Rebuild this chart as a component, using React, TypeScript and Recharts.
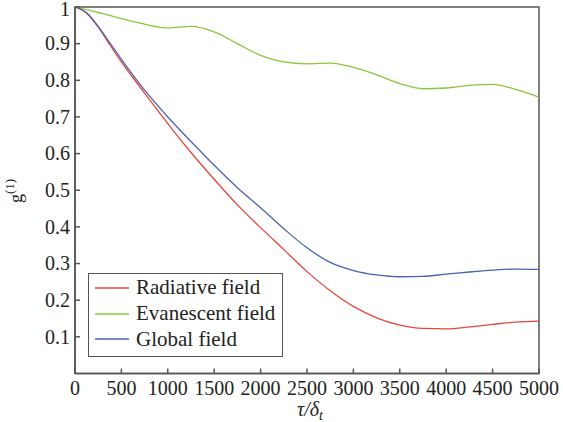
import React from 'react';
import { LineChart, Line, XAxis, YAxis, ReferenceArea, Legend } from 'recharts';

// Delay axis, tau / delta_t
const tau = [
  0, 125, 250, 375, 500, 750, 1000, 1250, 1500, 1750, 2000, 2250, 2500,
  2750, 3000, 3250, 3500, 3750, 4000, 4250, 4500, 4750, 5000,
];

// First-order coherence g(1) for each field
const radiative = [
  1.0, 0.983, 0.945, 0.897, 0.85, 0.765, 0.682, 0.603, 0.53, 0.46, 0.398, 0.338, 0.278,
  0.226, 0.183, 0.152, 0.132, 0.123, 0.122, 0.127, 0.134, 0.14, 0.143,
];
const evanescent = [
  1.0, 0.993, 0.985, 0.977, 0.968, 0.953, 0.943, 0.947, 0.932, 0.9, 0.868, 0.85, 0.845,
  0.847, 0.835, 0.815, 0.791, 0.777, 0.779, 0.786, 0.789, 0.775, 0.754,
];
const globalField = [
  1.0, 0.984, 0.947, 0.902, 0.857, 0.773, 0.7, 0.633, 0.568, 0.507, 0.452, 0.395, 0.343,
  0.303, 0.281, 0.269, 0.264, 0.265, 0.271, 0.277, 0.282, 0.285, 0.284,
];

const xTicks = [0, 500, 1000, 1500, 2000, 2500, 3000, 3500, 4000, 4500, 5000];
const yTicks = [0.1, 0.2, 0.3, 0.4, 0.5, 0.6, 0.7, 0.8, 0.9, 1];
const seriesNames = ['Radiative field', 'Evanescent field', 'Global field'];

const data = tau.map((t, i) => ({
  tau: t,
  radiative: radiative[i],
  evanescent: evanescent[i],
  global: globalField[i],
}));

const AXIS = '#555';
const SERIF = "'Liberation Serif', 'DejaVu Serif', 'Noto Serif', 'Times New Roman', Times, serif";
const COLORS = { radiative: '#e5463c', evanescent: '#8cc63a', global: '#4d63b2' };

const XTick = (props: any) => {
  const { x, y, payload } = props;
  return (
    <g>
      <line x1={x} y1={y} x2={x} y2={y - 5} stroke={AXIS} strokeWidth={1.5} />
      <text x={x} y={y + 21.5} textAnchor="middle" style={{ fontFamily: SERIF, fontSize: 20 }} fill="#222">
        {payload.value}
      </text>
    </g>
  );
};

const YTick = (props: any) => {
  const { x, y, payload } = props;
  // the top label sits a little lower so it stays inside the frame
  const dy = payload.value === 1 ? 8.8 : 6.8;
  return (
    <g>
      <line x1={x} y1={y} x2={x + 5} y2={y} stroke={AXIS} strokeWidth={1.5} />
      <text x={x - 5} y={y + dy} textAnchor="end" style={{ fontFamily: SERIF, fontSize: 20 }} fill="#222">
        {payload.value}
      </text>
    </g>
  );
};

const XLabel = (props: any) => {
  const { viewBox } = props;
  const cx = viewBox.x + viewBox.width / 2 + 3;
  return (
    <text x={cx} y={viewBox.y + 42} textAnchor="middle" style={{ fontFamily: SERIF, fontSize: 20, fontStyle: 'italic' }} fill="#222">
      τ/δ<tspan style={{ fontSize: 14 }} dy={4}>t</tspan>
    </text>
  );
};

const YLabel = () => {
  const cx = 22;
  const cy = 191;
  return (
    <text
      x={cx}
      y={cy}
      transform={`rotate(-90, ${cx}, ${cy})`}
      textAnchor="middle"
      style={{ fontFamily: SERIF, fontSize: 18 }}
      fill="#222"
    >
      g<tspan style={{ fontSize: 13 }} dy={-8}>(1)</tspan>
    </text>
  );
};

const legendKeys: Array<keyof typeof COLORS> = ['radiative', 'evanescent', 'global'];

const LegendBox = () => (
  <div
    style={{
      position: 'relative',
      width: 195,
      height: 84,
      boxSizing: 'border-box',
      border: `1.5px solid ${AXIS}`,
      background: '#fff',
      fontFamily: SERIF,
      fontSize: 21,
      color: '#222',
    }}
  >
    {legendKeys.map((k, i) => (
      <div
        key={k}
        style={{
          position: 'absolute',
          left: 0,
          top: 1 + i * 25.7,
          height: 25.7,
          display: 'flex',
          alignItems: 'center',
          whiteSpace: 'nowrap',
        }}
      >
        <svg width={34} height={4} style={{ marginLeft: 6, marginRight: 7, display: 'block' }}>
          <line x1={0} y1={2} x2={34} y2={2} stroke={COLORS[k]} strokeWidth={1.3} />
        </svg>
        <span>{seriesNames[i]}</span>
      </div>
    ))}
  </div>
);

export default function App() {
  return (
    <div style={{ position: 'fixed', left: 0, top: 0, width: 563, height: 422, background: '#fff' }}>
      <LineChart width={563} height={422} data={data} margin={{ top: 7, right: 24, bottom: 0, left: 0 }}>
        <XAxis
          dataKey="tau"
          type="number"
          domain={[0, 5000]}
          ticks={xTicks}
          interval={0}
          height={48.5}
          tickSize={0}
          tickMargin={0}
          tickLine={false}
          axisLine={{ stroke: AXIS, strokeWidth: 1.5 }}
          tick={<XTick />}
          label={<XLabel />}
        />
        <YAxis
          type="number"
          domain={[0, 1]}
          ticks={yTicks}
          interval={0}
          width={75}
          tickSize={0}
          tickMargin={0}
          tickLine={false}
          axisLine={{ stroke: AXIS, strokeWidth: 1.5 }}
          tick={<YTick />}
          label={<YLabel />}
        />
        <ReferenceArea x1={0} x2={5000} y1={0} y2={1} fill="none" stroke={AXIS} strokeWidth={1.5} />
        <Line type="monotone" dataKey="radiative" name={seriesNames[0]} stroke={COLORS.radiative} strokeWidth={1.3} dot={false} isAnimationActive={false} />
        <Line type="monotone" dataKey="evanescent" name={seriesNames[1]} stroke={COLORS.evanescent} strokeWidth={1.3} dot={false} isAnimationActive={false} />
        <Line type="monotone" dataKey="global" name={seriesNames[2]} stroke={COLORS.global} strokeWidth={1.3} dot={false} isAnimationActive={false} />
        <Legend
          layout="vertical"
          align="center"
          verticalAlign="middle"
          content={<LegendBox />}
          wrapperStyle={{ left: 88, top: 273, width: 195, height: 84 }}
        />
      </LineChart>
    </div>
  );
}
